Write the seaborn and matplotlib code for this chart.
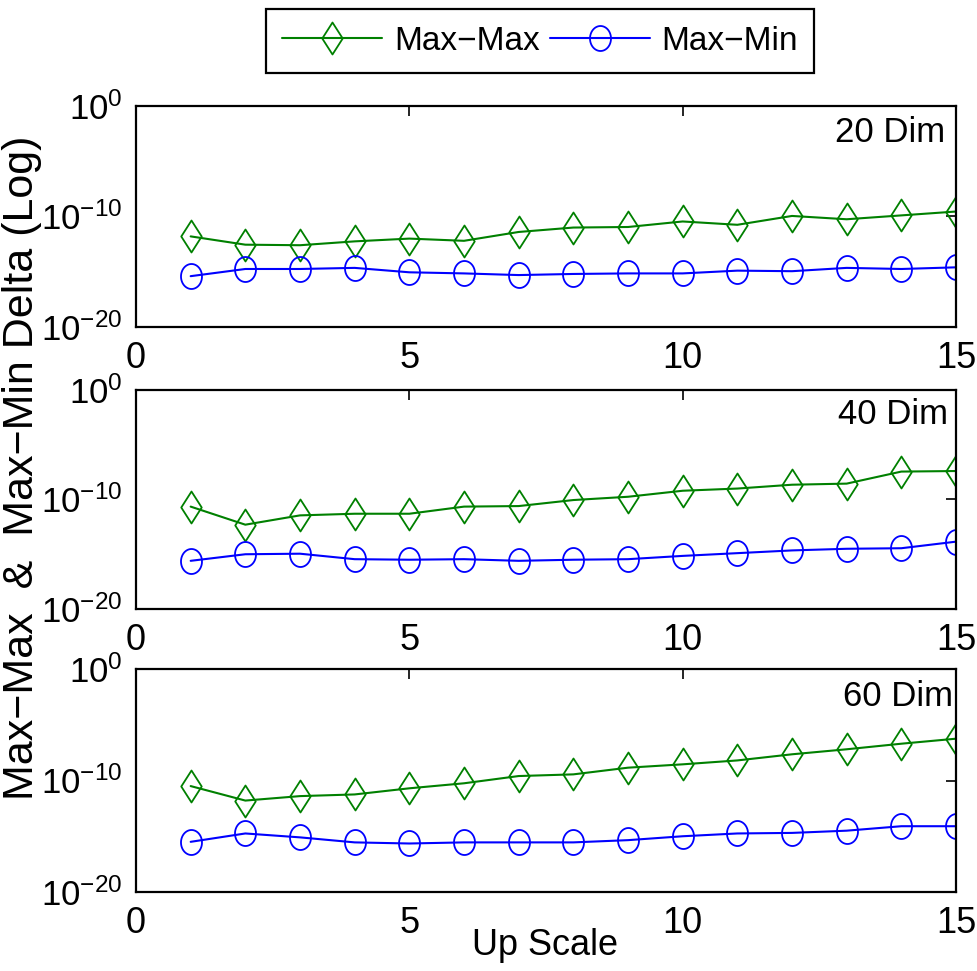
import numpy as np
import pandas as pd
import matplotlib
matplotlib.use("Agg")
import matplotlib.pyplot as plt
from matplotlib.path import Path
from matplotlib.lines import Line2D
import seaborn as sns

# Up-scale steps on the x axis
up_scale = list(range(1, 16))
dims = ["20 Dim", "40 Dim", "60 Dim"]

# log10 of the deltas for each dimension
maxmax_20 = [-11.8, -12.55, -12.6, -12.25, -12.0, -12.2, -11.4, -11.0, -10.95, -10.45, -10.75, -9.95, -10.25, -9.9, -9.55]
maxmin_20 = [-15.4, -14.75, -14.75, -14.65, -15.05, -15.15, -15.3, -15.2, -15.15, -15.15, -14.9, -14.95, -14.65, -14.75, -14.6]
maxmax_40 = [-10.65, -12.3, -11.45, -11.3, -11.3, -10.65, -10.6, -10.05, -9.75, -9.2, -9.0, -8.65, -8.55, -7.45, -7.4]
maxmin_40 = [-15.6, -15.0, -14.95, -15.45, -15.5, -15.45, -15.6, -15.5, -15.45, -15.15, -14.9, -14.65, -14.5, -14.45, -13.85]
maxmax_60 = [-10.5, -11.8, -11.4, -11.25, -10.7, -10.25, -9.6, -9.45, -8.85, -8.55, -8.2, -7.65, -7.2, -6.7, -6.25]
maxmin_60 = [-15.5, -14.75, -15.1, -15.55, -15.65, -15.55, -15.55, -15.55, -15.35, -15.0, -14.75, -14.7, -14.5, -14.1, -14.1]

series_names = ["Max\u2212Max", "Max\u2212Min"]
x_ticks = [0, 5, 10, 15]
y_ticks = [1e-20, 1e-10, 1e0]

GREEN = "#008000"
BLUE = "#0000FF"

sns.set_theme(style="white")
plt.rcParams.update({
    "font.family": ["Liberation Sans", "DejaVu Sans"],
    "mathtext.fontset": "custom",
    "mathtext.rm": "Liberation Sans",
    "mathtext.it": "Liberation Sans",
    "text.color": "black",
    "axes.labelcolor": "black",
    "xtick.color": "black",
    "ytick.color": "black",
    "axes.edgecolor": "black",
})

# tall diamond and upright ellipse markers
diamond = Path([(0, 1), (0.64, 0), (0, -1), (-0.64, 0), (0, 1)],
               [Path.MOVETO, Path.LINETO, Path.LINETO, Path.LINETO, Path.CLOSEPOLY])
theta = np.linspace(0, 2 * np.pi, 61)
ellipse = Path(np.column_stack([0.84 * np.cos(theta), np.sin(theta)]))

fig = plt.figure(figsize=(9.78, 9.71), dpi=100)
W, H = 978, 971
left, right = 136, 956
boxes = [(106, 327), (390, 609), (669, 892)]

data = {
    "20 Dim": (maxmax_20, maxmin_20),
    "40 Dim": (maxmax_40, maxmin_40),
    "60 Dim": (maxmax_60, maxmin_60),
}
label_pos = {"20 Dim": (0.987, 0.88), "40 Dim": (0.99, 0.89), "60 Dim": (0.996, 0.875)}

tick_fs = 25
line_kw = dict(linewidth=1.5, markersize=23, markerfacecolor="none", markeredgewidth=1.3)
circ_kw = dict(linewidth=1.5, markersize=18, markerfacecolor="none", markeredgewidth=1.3)

for (top, bot), dim in zip(boxes, dims):
    ax = fig.add_axes([left / W, 1 - bot / H, (right - left) / W, (bot - top) / H])
    mm, mn = data[dim]
    df = pd.DataFrame({"x": up_scale, "mm": 10.0 ** np.array(mm), "mn": 10.0 ** np.array(mn)})
    sns.lineplot(data=df, x="x", y="mm", ax=ax, color=GREEN, marker=diamond,
                 markeredgecolor=GREEN, **line_kw)
    sns.lineplot(data=df, x="x", y="mn", ax=ax, color=BLUE, marker=ellipse,
                 markeredgecolor=BLUE, **circ_kw)
    ax.set_yscale("log")
    ax.set_xlim(0, 15)
    ax.set_ylim(1e-20, 1e0)
    ax.set_xticks(x_ticks)
    ax.set_xticklabels([str(t) for t in x_ticks])
    ax.set_yticks(y_ticks)
    ax.yaxis.set_minor_locator(matplotlib.ticker.NullLocator())
    ax.set_yticklabels([r"$\mathregular{10^{%d}}$" % int(np.log10(t)) for t in y_ticks])
    ax.set_xlabel("")
    ax.set_ylabel("")
    ax.tick_params(axis="both", which="major", direction="in", length=7, width=1.2,
                   labelsize=tick_fs, colors="black", top=True, right=True)
    ax.tick_params(axis="x", labelsize=26, pad=10)
    ax.tick_params(axis="y", pad=10)
    for sp in ax.spines.values():
        sp.set_color("black")
        sp.set_linewidth(1.6)
    ax.set_facecolor("white")
    lx, ly = label_pos[dim]
    ax.text(lx, ly, dim, transform=ax.transAxes, ha="right", va="center",
            fontsize=25, color="black")

fig.text(545 / W, 1 - 945 / H, "Up Scale", ha="center", va="center", fontsize=26)
fig.text(22 / W, 1 - 468 / H, "Max\u2212Max  &  Max\u2212Min Delta (Log)", rotation=90,
         ha="center", va="center", fontsize=31)

handles = [
    Line2D([], [], color=GREEN, marker=diamond, markeredgecolor=GREEN, **line_kw),
    Line2D([], [], color=BLUE, marker=ellipse, markeredgecolor=BLUE, **circ_kw),
]
leg = fig.legend(handles, series_names, loc="center", bbox_to_anchor=(540 / W, 1 - 41 / H),
                 ncol=2, fontsize=24, frameon=True, fancybox=False, edgecolor="black",
                 framealpha=1.0, handlelength=3.0, handletextpad=0.35, columnspacing=0.3,
                 borderpad=0.5)
leg.get_frame().set_linewidth(1.6)

fig.savefig("out.png", dpi=100, facecolor="white")
